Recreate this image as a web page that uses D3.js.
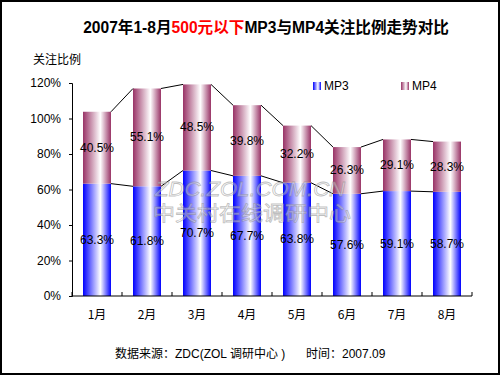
<!DOCTYPE html>
<html>
<head>
<meta charset="utf-8">
<script src="https://cdn.jsdelivr.net/npm/d3@7"></script>
<style>
  body { margin: 0; background: #fff; }
  svg { display: block; font-family: "Liberation Sans", Arial, "Noto Sans CJK SC", sans-serif; }
</style>
</head>
<body>
<div id="chart"></div>
<script>
// Data
const months = ["1月", "2月", "3月", "4月", "5月", "6月", "7月", "8月"];
const mp3 = [63.3, 61.8, 70.7, 67.7, 63.8, 57.6, 59.1, 58.7];
const mp4 = [40.5, 55.1, 48.5, 39.8, 32.2, 26.3, 29.1, 28.3];
const yTicks = [0, 20, 40, 60, 80, 100, 120];
const seriesNames = ["MP3", "MP4"];

const W = 500, H = 375;
const svg = d3.select("#chart").append("svg")
    .attr("width", W)
    .attr("height", H);

// Gradients for the columns
const defs = svg.append("defs");
function addGradient(id, color) {
    const g = defs.append("linearGradient")
        .attr("id", id)
        .attr("x1", "0%").attr("x2", "100%");
    g.append("stop").attr("offset", "0%").attr("stop-color", color);
    g.append("stop").attr("offset", "62%").attr("stop-color", "#ffffff");
    g.append("stop").attr("offset", "100%").attr("stop-color", color);
}
addGradient("gMP3", "#0000ff");
addGradient("gMP4", "#993366");
const fills = ["url(#gMP3)", "url(#gMP4)"];

// Scales
const x = d3.scaleBand()
    .domain(months)
    .range([72, 472])
    .paddingInner(0.44)
    .paddingOuter(0.22);

const y = d3.scaleLinear()
    .domain([0, 120])
    .range([296, 83]);

// Stack
const rows = months.map((m, i) => ({ month: m, MP3: mp3[i], MP4: mp4[i] }));
const stacked = d3.stack().keys(seriesNames)(rows);

// Bars
stacked.forEach((layer, li) => {
    svg.append("g").selectAll("rect")
        .data(layer)
        .enter()
        .append("rect")
        .attr("x", d => x(d.data.month))
        .attr("y", d => y(d[1]))
        .attr("width", x.bandwidth())
        .attr("height", d => y(d[0]) - y(d[1]))
        .attr("fill", fills[li]);
});

// Series lines between bar tops
stacked.forEach(layer => {
    for (let i = 0; i < layer.length - 1; i++) {
        svg.append("line")
            .attr("x1", x(months[i]) + x.bandwidth())
            .attr("y1", y(layer[i][1]))
            .attr("x2", x(months[i + 1]))
            .attr("y2", y(layer[i + 1][1]))
            .attr("stroke", "#000")
            .attr("stroke-width", 1);
    }
});

// Watermark (semi-transparent, on top of the bars)
const wm = svg.append("g")
    .attr("fill", "#ffffff")
    .attr("fill-opacity", 0.35)
    .attr("stroke", "#888")
    .attr("stroke-opacity", 0.55)
    .attr("stroke-width", 0.8)
    .attr("text-anchor", "middle");
wm.append("text")
    .attr("x", 250)
    .attr("y", 196)
    .attr("font-size", 21)
    .attr("font-style", "italic")
    .attr("textLength", 190)
    .attr("lengthAdjust", "spacingAndGlyphs")
    .text("ZDC.ZOL.COM.CN");
wm.append("text")
    .attr("x", 252)
    .attr("y", 221)
    .attr("font-size", 20)
    .attr("font-family", "Noto Sans CJK SC")
    .attr("textLength", 198)
    .attr("lengthAdjust", "spacingAndGlyphs")
    .text("中关村在线调研中心");

// Value labels
stacked.forEach((layer, li) => {
    svg.append("g").selectAll("text")
        .data(layer)
        .enter()
        .append("text")
        .attr("x", d => x(d.data.month) + x.bandwidth() / 2)
        .attr("y", d => y((d[0] + d[1]) / 2) + 4)
        .attr("text-anchor", "middle")
        .attr("font-size", 12)
        .attr("fill", "#000")
        .text(d => (d[1] - d[0]).toFixed(1) + "%");
});

// Y axis
const yAxis = svg.append("g")
    .attr("transform", "translate(72,0)")
    .call(d3.axisLeft(y).tickValues(yTicks).tickSize(3).tickPadding(8)
        .tickFormat(d => d + "%"));
yAxis.select(".domain").attr("stroke", "#000");
yAxis.selectAll(".tick line").attr("stroke", "#000");
yAxis.selectAll("text")
    .attr("font-size", 12)
    .attr("font-family", "Liberation Sans, Arial, sans-serif")
    .attr("fill", "#000");

// X axis: baseline with ticks between categories pointing up
svg.append("line")
    .attr("x1", 72).attr("x2", 472)
    .attr("y1", y(0)).attr("y2", y(0))
    .attr("stroke", "#000");
const edges = months.map(m => x(m) - x.step() * 0.22).concat([472]);
svg.append("g").selectAll("line")
    .data(edges)
    .enter()
    .append("line")
    .attr("x1", d => d).attr("x2", d => d)
    .attr("y1", y(0)).attr("y2", y(0) - 4)
    .attr("stroke", "#000");
svg.append("g").selectAll("text")
    .data(months)
    .enter()
    .append("text")
    .attr("x", d => x(d) + x.bandwidth() / 2)
    .attr("y", 319)
    .attr("text-anchor", "middle")
    .attr("font-size", 12)
    .attr("font-family", "Noto Sans CJK SC, sans-serif")
    .text(d => d);

// Axis title
svg.append("text")
    .attr("x", 33)
    .attr("y", 64)
    .attr("font-size", 12)
    .attr("font-family", "Noto Sans CJK SC, sans-serif")
    .text("关注比例");

// Legend
const legendX = [313, 401];
seriesNames.forEach((name, i) => {
    svg.append("rect")
        .attr("x", legendX[i])
        .attr("y", 82)
        .attr("width", 8)
        .attr("height", 8)
        .attr("fill", fills[i]);
    svg.append("text")
        .attr("x", legendX[i] + 11)
        .attr("y", 90)
        .attr("font-size", 12)
        .text(name);
});

// Title
const title = svg.append("text")
    .attr("x", 266)
    .attr("y", 33)
    .attr("text-anchor", "middle")
    .attr("font-size", 15.6)
    .attr("font-weight", "bold")
    .attr("font-family", "Liberation Sans, Noto Sans CJK SC, sans-serif");
title.append("tspan").attr("fill", "#000").text("2007年1-8月");
title.append("tspan").attr("fill", "#ff0000").text("500元以下");
title.append("tspan").attr("fill", "#000").text("MP3与MP4关注比例走势对比");

// Footer
svg.append("text")
    .attr("x", 115)
    .attr("y", 358)
    .attr("font-size", 12)
    .attr("font-family", "Liberation Sans, Noto Sans CJK SC, sans-serif")
    .text("数据来源：ZDC(ZOL 调研中心 )");
svg.append("text")
    .attr("x", 306)
    .attr("y", 358)
    .attr("font-size", 12)
    .attr("font-family", "Liberation Sans, Noto Sans CJK SC, sans-serif")
    .text("时间：2007.09");

// Outer border
svg.append("rect")
    .attr("x", 1).attr("y", 1)
    .attr("width", W - 2).attr("height", H - 2)
    .attr("fill", "none")
    .attr("stroke", "#000")
    .attr("stroke-width", 2);
</script>
</body>
</html>
